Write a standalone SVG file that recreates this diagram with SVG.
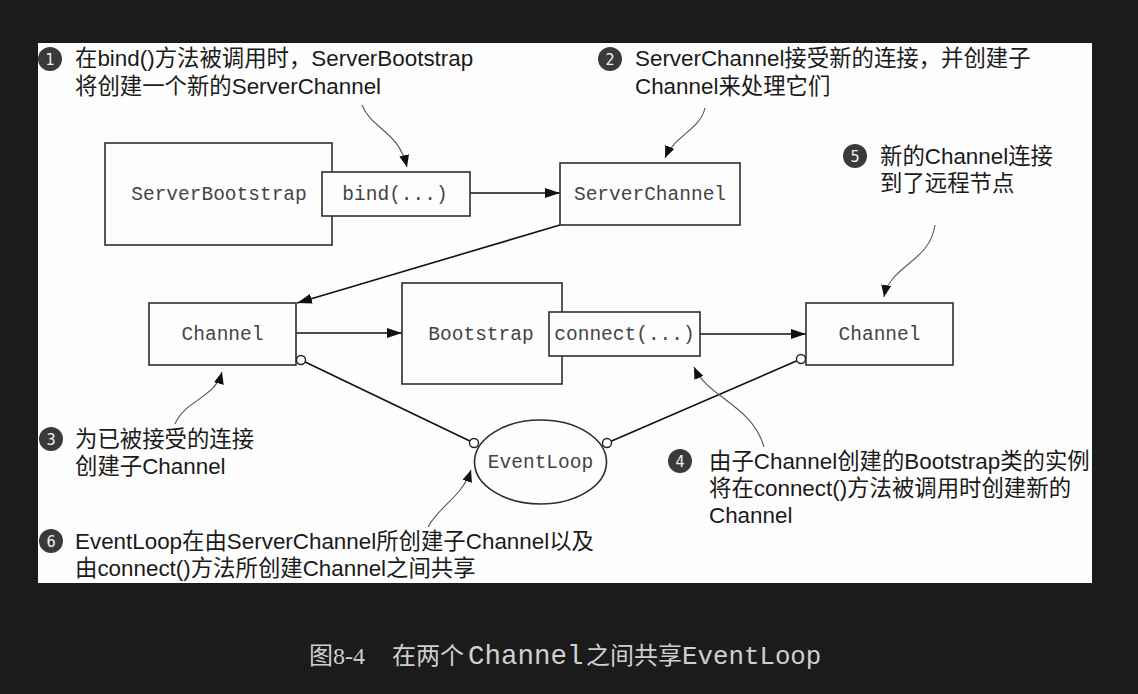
<svg xmlns="http://www.w3.org/2000/svg" width="1138" height="694" viewBox="0 0 1138 694">
<style>
.box{fill:#fdfdfd;stroke:#2e2e2e;stroke-width:1.6}
.mono{font-family:"Liberation Mono","DejaVu Sans Mono",monospace;font-size:19.5px;fill:#444;text-anchor:middle}
.note{font-family:"Liberation Sans","Noto Sans CJK SC",sans-serif;font-size:22.4px;fill:#1a1a1a}
.num{font-family:"DejaVu Sans Condensed","DejaVu Sans",sans-serif;font-size:16px;fill:#f2f2f2;text-anchor:middle}
.badge{fill:#3a3a3a}
.edge{stroke:#111;stroke-width:1.6;fill:none}
.call{stroke:#555;stroke-width:1.1;fill:none}
.dot{fill:#fff;stroke:#222;stroke-width:1.4}
.cap{fill:#cfcfcf}
</style>
<defs>
<marker id="ah" markerUnits="userSpaceOnUse" markerWidth="15" markerHeight="10" refX="15" refY="5" orient="auto">
<path d="M0,0 L15,5 L0,10 z" fill="#111"/>
</marker>
<marker id="ch" markerUnits="userSpaceOnUse" markerWidth="12" markerHeight="10" refX="12" refY="5" orient="auto">
<path d="M0,0 L12,5 L0,10 z" fill="#111"/>
</marker>
</defs>
<rect x="0" y="0" width="1138" height="694" fill="#1b1b1b"/>
<rect x="38" y="43" width="1054" height="540" fill="#fdfdfd"/>

<g id="connectors">
<path class="edge" d="M470,193 L560,193" marker-end="url(#ah)"/>
<path class="edge" d="M560,225 L297,303" marker-end="url(#ah)"/>
<path class="edge" d="M296,333 L402,333" marker-end="url(#ah)"/>
<path class="edge" d="M700,334 L806,334" marker-end="url(#ah)"/>
<path class="edge" d="M301,360 L474,443"/>
<path class="edge" d="M607,443 L801,359"/>
<path class="call" d="M362,105 C372,130 398,130 407,167" marker-end="url(#ch)"/>
<path class="call" d="M705,108 C700,130 675,135 665,158" marker-end="url(#ch)"/>
<path class="call" d="M935,225 C930,262 890,265 884,297" marker-end="url(#ch)"/>
<path class="call" d="M175,424 C185,400 215,398 222,372" marker-end="url(#ch)"/>
<path class="call" d="M764,447 C752,405 708,398 694,367" marker-end="url(#ch)"/>
<path class="call" d="M428,527 C440,505 462,497 471,470" marker-end="url(#ch)"/>
</g>

<g id="serverbootstrap">
<rect class="box" x="105" y="143" width="227" height="102"/>
<text class="mono" x="219" y="200">ServerBootstrap</text>
</g>
<g id="bind">
<rect class="box" x="322" y="172" width="148" height="44"/>
<text class="mono" x="395" y="200">bind(...)</text>
</g>
<g id="serverchannel">
<rect class="box" x="560" y="163" width="180" height="62"/>
<text class="mono" x="650" y="200">ServerChannel</text>
</g>
<g id="channel-left">
<rect class="box" x="149" y="303" width="147" height="62"/>
<text class="mono" x="222.5" y="340">Channel</text>
</g>
<g id="bootstrap">
<rect class="box" x="402" y="283" width="160" height="101"/>
<text class="mono" x="481" y="340">Bootstrap</text>
</g>
<g id="connect">
<rect class="box" x="549" y="312" width="151" height="44"/>
<text class="mono" x="624.5" y="340">connect(...)</text>
</g>
<g id="channel-right">
<rect class="box" x="806" y="303" width="147" height="62"/>
<text class="mono" x="879.5" y="340">Channel</text>
</g>
<g id="eventloop">
<ellipse class="box" cx="540.5" cy="462" rx="66" ry="42"/>
<text class="mono" x="540.5" y="468">EventLoop</text>
</g>
<g id="dots">
<circle class="dot" cx="301" cy="360" r="4.5"/>
<circle class="dot" cx="474" cy="443" r="4.5"/>
<circle class="dot" cx="607" cy="443" r="4.5"/>
<circle class="dot" cx="801" cy="359" r="4.5"/>
</g>

<g id="note1">
<circle class="badge" cx="50" cy="59" r="12"/>
<text class="num" x="50" y="65">1</text>
<text class="note" x="75" y="66">在bind()方法被调用时，ServerBootstrap</text>
<text class="note" x="75" y="94">将创建一个新的ServerChannel</text>
</g>
<g id="note2">
<circle class="badge" cx="610" cy="59" r="12"/>
<text class="num" x="610" y="65">2</text>
<text class="note" x="635" y="66">ServerChannel接受新的连接，并创建子</text>
<text class="note" x="635" y="94">Channel来处理它们</text>
</g>
<g id="note5">
<circle class="badge" cx="855" cy="156" r="12"/>
<text class="num" x="855" y="162">5</text>
<text class="note" x="880" y="164">新的Channel连接</text>
<text class="note" x="880" y="191">到了远程节点</text>
</g>
<g id="note3">
<circle class="badge" cx="51" cy="439" r="12"/>
<text class="num" x="51" y="445">3</text>
<text class="note" x="75" y="447">为已被接受的连接</text>
<text class="note" x="75" y="474">创建子Channel</text>
</g>
<g id="note4">
<circle class="badge" cx="680" cy="461" r="12"/>
<text class="num" x="680" y="467">4</text>
<text class="note" x="709" y="469">由子Channel创建的Bootstrap类的实例</text>
<text class="note" x="709" y="496">将在connect()方法被调用时创建新的</text>
<text class="note" x="709" y="523">Channel</text>
</g>
<g id="note6">
<circle class="badge" cx="51" cy="541" r="12"/>
<text class="num" x="51" y="547">6</text>
<text class="note" x="75" y="549">EventLoop在由ServerChannel所创建子Channel以及</text>
<text class="note" x="75" y="576">由connect()方法所创建Channel之间共享</text>
</g>

<g id="caption" class="cap">
<text x="309" y="664" font-family="Liberation Serif,'Noto Sans CJK SC',serif" font-size="24">图8-4</text>
<text x="392" y="664" font-family="'Noto Sans CJK SC',sans-serif" font-size="24">在两个</text>
<text x="468" y="664" font-family="'Liberation Mono',monospace" font-size="27.5">Channel</text>
<text x="586" y="664" font-family="'Noto Sans CJK SC',sans-serif" font-size="24">之间共享</text>
<text x="682" y="664" font-family="'Liberation Mono',monospace" font-size="25.8">EventLoop</text>
</g>
</svg>
